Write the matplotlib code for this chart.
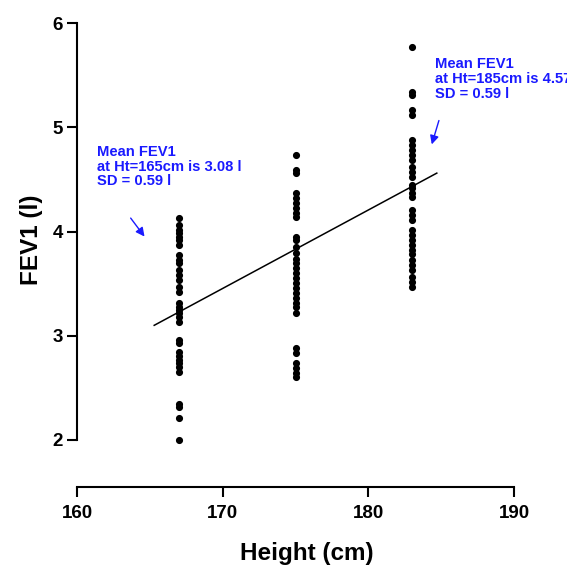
import numpy as np
import matplotlib
matplotlib.use("Agg")
import matplotlib.pyplot as plt

plt.rcParams['font.family'] = ['Liberation Sans', 'DejaVu Sans']
plt.rcParams['font.weight'] = 'bold'

# heights (cm) of the three groups
heights = [167, 175, 183]

# FEV1 (l) readings for each group
fev_167 = [4.13, 4.06, 4.01, 3.99, 3.95, 3.92, 3.87, 3.77, 3.73, 3.70, 3.63,
           3.58, 3.53, 3.47, 3.42, 3.31, 3.28, 3.25, 3.22, 3.18, 3.13, 2.96,
           2.93, 2.84, 2.81, 2.77, 2.74, 2.70, 2.65, 2.35, 2.32, 2.21, 2.00]
fev_175 = [4.73, 4.59, 4.56, 4.37, 4.32, 4.27, 4.23, 4.18, 4.14, 3.95, 3.92,
           3.85, 3.79, 3.74, 3.70, 3.65, 3.60, 3.55, 3.51, 3.46, 3.41, 3.36,
           3.31, 3.28, 3.22, 2.88, 2.83, 2.74, 2.69, 2.64, 2.60]
fev_183 = [5.77, 5.34, 5.31, 5.17, 5.12, 4.88, 4.83, 4.78, 4.73, 4.69, 4.62,
           4.57, 4.52, 4.45, 4.42, 4.37, 4.33, 4.21, 4.16, 4.11, 4.01, 3.97,
           3.92, 3.87, 3.82, 3.78, 3.73, 3.68, 3.63, 3.56, 3.52, 3.47]

# fitted line end points
fit_x = [165.3, 184.7]
fit_y = [3.10, 4.56]

x_ticks = [160, 170, 180, 190]
y_ticks = [2, 3, 4, 5, 6]

fig = plt.figure(figsize=(5.67, 5.67), dpi=100)
ax = fig.add_axes([77 / 567, 80 / 567, 437 / 567, 464 / 567])

for h, vals in zip(heights, [fev_167, fev_175, fev_183]):
    ax.scatter([h] * len(vals), vals, s=17, color='black', zorder=3)

ax.plot(fit_x, fit_y, color='black', lw=1.1)

ax.set_xlim(160, 190)
ax.set_ylim(2 - 47 / 104.25, 6)
ax.spines['top'].set_visible(False)
ax.spines['right'].set_visible(False)
ax.spines['left'].set_bounds(2, 6)
ax.spines['left'].set_linewidth(1.5)
ax.spines['bottom'].set_linewidth(1.5)
ax.set_xticks(x_ticks)
ax.set_yticks(y_ticks)
ax.tick_params(width=1.5, length=7, labelsize=13.5)
ax.tick_params(axis='x', pad=6)
ax.tick_params(axis='y', pad=3)
for lab in ax.get_xticklabels() + ax.get_yticklabels():
    lab.set_fontweight('bold')

ax.set_xlabel('Height (cm)', fontsize=17.5, fontweight='bold', va='center')
ax.xaxis.set_label_coords(0.526, -0.143)
ax.set_ylabel('FEV1 (l)', fontsize=17.5, fontweight='bold', va='center')
ax.yaxis.set_label_coords(-0.105, 0.532)

blue = '#1a1aff'
ax.text(161.37, 4.83, 'Mean FEV1\nat Ht=165cm is 3.08 l\nSD = 0.59 l',
        color=blue, fontsize=10.6, fontweight='bold', va='top', ha='left',
        linespacing=1.05)
# right-hand note runs off the figure edge, as in the original
ax.text(184.57, 5.67, 'Mean FEV1\nat Ht=185cm is 4.57 l\nSD = 0.59 l',
        color=blue, fontsize=10.6, fontweight='bold', va='top', ha='left',
        linespacing=1.05)
ax.annotate('', xy=(164.75, 3.93), xytext=(163.57, 4.15),
            arrowprops=dict(arrowstyle='-|>', color=blue, lw=1.0,
                            mutation_scale=13))
ax.annotate('', xy=(184.3, 4.81), xytext=(184.9, 5.09),
            arrowprops=dict(arrowstyle='-|>', color=blue, lw=1.0,
                            mutation_scale=13))

fig.savefig('out.png', dpi=100)
